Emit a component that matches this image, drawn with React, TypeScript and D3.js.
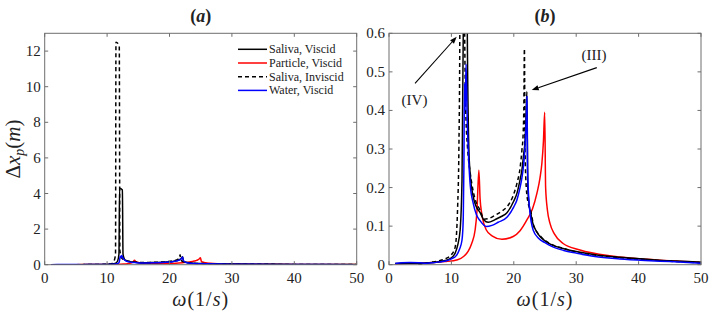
import React from "react";
import * as d3 from "d3";

type P = [number, number];

const salivaViscid: P[] = [
  [1, 0.003], [3, 0.004], [5, 0.004], [7, 0.006], [9, 0.011], [10, 0.018], [10.6, 0.03], [11, 0.05],
  [11.4, 0.09], [11.7, 0.22], [11.9, 0.6], [12.0, 4.3], [12.45, 4.2], [12.55, 0.6], [12.8, 0.3],
  [13, 0.237], [13.5, 0.176], [14, 0.15], [14.6, 0.135], [15.2, 0.116], [15.9, 0.11], [17, 0.117],
  [18, 0.125], [18.9, 0.135], [20, 0.165], [20.5, 0.185], [21, 0.22], [21.3, 0.245], [21.6, 0.29],
  [21.8, 0.32], [21.95, 0.38], [22.1, 0.449], [22.25, 0.2], [22.5, 0.15], [22.7, 0.134], [23, 0.11],
  [23.5, 0.09], [24.2, 0.073], [25, 0.062], [26, 0.052], [27.9, 0.042], [30, 0.034], [33.3, 0.025],
  [37, 0.019], [41.3, 0.014], [45, 0.01], [49.3, 0.007], [50, 0.0065],
];

const particleViscid: P[] = [
  [1, 0.002], [3, 0.003], [5, 0.004], [7, 0.006], [9, 0.008], [11, 0.013], [12, 0.022], [12.7, 0.035],
  [13.25, 0.055], [13.8, 0.09], [14.1, 0.14], [14.4, 0.245], [14.6, 0.17], [14.85, 0.134], [15.6, 0.09],
  [16.5, 0.075], [18.1, 0.066], [19.9, 0.073], [21, 0.088], [22.1, 0.116], [23, 0.145], [23.7, 0.185],
  [24.2, 0.225], [24.5, 0.263], [24.75, 0.32], [24.95, 0.395], [25.1, 0.2], [25.4, 0.14], [25.8, 0.107],
  [26.5, 0.08], [27.9, 0.055], [30.6, 0.038], [36, 0.022], [41.3, 0.014], [45, 0.01], [50, 0.006],
];

const salivaInviscid: P[] = [
  [4.7, 0], [6, 0.004], [7, 0.007], [8, 0.01], [9.25, 0.017], [10, 0.026], [10.6, 0.045], [11, 0.15],
  [11.2, 0.3], [11.35, 0.6], [11.42, 12.5], [11.95, 12.3], [12.05, 0.8], [12.3, 0.4], [12.6, 0.3],
  [13, 0.24], [13.5, 0.19], [14, 0.16], [14.6, 0.142], [15.2, 0.118], [16, 0.12], [17, 0.128],
  [18, 0.138], [18.9, 0.15], [19.8, 0.175], [20.5, 0.211], [21, 0.25], [21.3, 0.297], [21.5, 0.34],
  [21.6, 0.4], [21.7, 0.56], [21.8, 0.3], [22, 0.2], [22.3, 0.16], [22.7, 0.14], [23.2, 0.1],
  [23.7, 0.085], [24.5, 0.07], [26, 0.053], [28, 0.042], [30, 0.033], [33, 0.025], [37, 0.018],
  [41, 0.013], [45, 0.009], [50, 0.005],
];

const waterViscid: P[] = [
  [1, 0.003], [2, 0.005], [3.4, 0.006], [5, 0.005], [6, 0.004], [7, 0.005], [8, 0.007], [9.25, 0.01],
  [10, 0.015], [10.85, 0.025], [11.3, 0.04], [11.7, 0.064], [11.9, 0.12], [12.0, 0.25], [12.1, 0.47],
  [12.2, 0.4], [12.35, 0.52], [12.5, 0.4], [12.7, 0.3], [13, 0.21], [13.5, 0.159], [14, 0.13],
  [14.6, 0.114], [15.6, 0.099], [16.5, 0.102], [17.5, 0.11], [18.9, 0.123], [20, 0.15], [20.5, 0.168],
  [21, 0.2], [21.3, 0.225], [21.6, 0.263], [21.85, 0.32], [22.0, 0.38], [22.1, 0.436], [22.2, 0.25],
  [22.5, 0.15], [23.1, 0.09], [24, 0.068], [25, 0.057], [26, 0.048], [28, 0.037], [30, 0.03],
  [33, 0.021], [37, 0.015], [41, 0.011], [45, 0.008], [50, 0.004],
];

const seriesNames = ["Saliva, Viscid", "Particle, Viscid", "Saliva, Inviscid", "Water, Viscid"];
const seriesData = [salivaViscid, particleViscid, salivaInviscid, waterViscid];
const seriesColors = ["#000000", "#ff0000", "#000000", "#0000ff"];
const seriesDash = [null, null, "4,3", null];
const drawOrder = [1, 0, 2, 3];

const xTicks = [0, 10, 20, 30, 40, 50];
const yTicksA = [0, 2, 4, 6, 8, 10, 12];
const yTicksB = [0, 0.1, 0.2, 0.3, 0.4, 0.5, 0.6];

const panelTitles = ["a", "b"];
const annotations = [
  { label: "(IV)", tx: 4.09, ty: 0.427, from: [4.17, 0.47] as P, to: [10.85, 0.591] as P },
  { label: "(III)", tx: 32.85, ty: 0.544, from: [33.3, 0.511] as P, to: [22.87, 0.453] as P },
];

const W = 709;
const H = 311;
const TOP = 33.3;
const BOTTOM = 264.7;
const FONT = "Liberation Serif, DejaVu Serif, serif";

function Panel({ left, right, yMax, yTicks, title, fmt, showYLabel, showLegend, id, annots }: any) {
  const x = d3.scaleLinear().domain([0, 50]).range([left, right]);
  const y = d3.scaleLinear().domain([0, yMax]).range([BOTTOM, TOP]);
  const line = d3
    .line<P>()
    .x((d) => x(d[0]))
    .y((d) => y(d[1]))
    .curve(d3.curveMonotoneX);
  const tl = 3.5;
  const axisColor = "#6e6e6e";
  const cx = (left + right) / 2;
  return (
    <g>
      <defs>
        <clipPath id={id}>
          <rect x={left} y={TOP} width={right - left} height={BOTTOM - TOP} />
        </clipPath>
      </defs>
      <g clipPath={`url(#${id})`}>
        {drawOrder.map((i) => (
          <path
            key={i}
            d={line(seriesData[i]) || ""}
            fill="none"
            stroke={seriesColors[i]}
            strokeWidth={1.5}
            strokeDasharray={seriesDash[i] || undefined}
            strokeLinejoin="round"
          />
        ))}
      </g>
      <rect x={left} y={TOP} width={right - left} height={BOTTOM - TOP} fill="none" stroke={axisColor} strokeWidth={1} />
      {xTicks.map((t) => (
        <g key={"x" + t}>
          <line x1={x(t)} x2={x(t)} y1={BOTTOM} y2={BOTTOM - tl} stroke={axisColor} />
          <line x1={x(t)} x2={x(t)} y1={TOP} y2={TOP + tl} stroke={axisColor} />
          <text x={x(t)} y={283} textAnchor="middle" fontFamily={FONT} fontSize={15} fill="#222">
            {t}
          </text>
        </g>
      ))}
      {yTicks.map((t: number) => (
        <g key={"y" + t}>
          <line x1={left} x2={left + tl} y1={y(t)} y2={y(t)} stroke={axisColor} />
          <line x1={right} x2={right - tl} y1={y(t)} y2={y(t)} stroke={axisColor} />
          <text x={left - 4} y={y(t) + 5} textAnchor="end" fontFamily={FONT} fontSize={15} fill="#222">
            {fmt(t)}
          </text>
        </g>
      ))}
      <text x={cx} y={22} textAnchor="middle" fontFamily={FONT} fontSize={18} fontWeight="bold" fill="#222">
        (<tspan fontStyle="italic">{title}</tspan>)
      </text>
      <text x={cx} y={306} textAnchor="middle" fontFamily={FONT} fontSize={20} fill="#222" letterSpacing={1}>
        <tspan fontStyle="italic">ω</tspan>(1/<tspan fontStyle="italic">s</tspan>)
      </text>
      {showYLabel && (
        <text
          transform={`translate(20,${(TOP + BOTTOM) / 2}) rotate(-90)`}
          textAnchor="middle"
          fontFamily={FONT}
          fontSize={21}
          fill="#222"
        >
          Δ<tspan fontStyle="italic">x</tspan>
          <tspan fontStyle="italic" fontSize={14} dy={4}>p</tspan>
          <tspan dy={-4}>(</tspan>
          <tspan fontStyle="italic">m</tspan>)
        </text>
      )}
      {showLegend &&
        seriesNames.map((n, i) => (
          <g key={n}>
            <line
              x1={238}
              x2={267}
              y1={49.3 + i * 13.7}
              y2={49.3 + i * 13.7}
              stroke={seriesColors[i]}
              strokeWidth={1.5}
              strokeDasharray={seriesDash[i] || undefined}
            />
            <text x={269} y={49.3 + i * 13.7 + 4} fontFamily={FONT} fontSize={12} fill="#222">
              {n}
            </text>
          </g>
        ))}
      {annots &&
        annots.map((a: any) => {
          const x1 = x(a.from[0]);
          const y1 = y(a.from[1]);
          const x2 = x(a.to[0]);
          const y2 = y(a.to[1]);
          const ang = Math.atan2(y2 - y1, x2 - x1);
          const hl = 7;
          const hw = 2.6;
          const bx = x2 - hl * Math.cos(ang);
          const by = y2 - hl * Math.sin(ang);
          const p1 = [bx + hw * Math.sin(ang), by - hw * Math.cos(ang)];
          const p2 = [bx - hw * Math.sin(ang), by + hw * Math.cos(ang)];
          return (
            <g key={a.label}>
              <line x1={x1} y1={y1} x2={bx} y2={by} stroke="#000" strokeWidth={1.1} />
              <path d={`M${x2},${y2}L${p1[0]},${p1[1]}L${p2[0]},${p2[1]}Z`} fill="#000" />
              <text x={x(a.tx)} y={y(a.ty) + 5} textAnchor="middle" fontFamily={FONT} fontSize={15} fill="#222">
                {a.label}
              </text>
            </g>
          );
        })}
    </g>
  );
}

export default function App() {
  return (
    <svg width={W} height={H} style={{ position: "absolute", left: 0, top: 0, background: "#fff" }}>
      <rect width={W} height={H} fill="#fff" />
      <Panel
        id="clipA"
        left={44.7}
        right={356.7}
        yMax={13}
        yTicks={yTicksA}
        title={panelTitles[0]}
        fmt={(t: number) => String(t)}
        showYLabel
        showLegend
      />
      <Panel
        id="clipB"
        left={389}
        right={701}
        yMax={0.6}
        yTicks={yTicksB}
        title={panelTitles[1]}
        fmt={(t: number) => (t === 0 ? "0" : t.toFixed(1))}
        annots={annotations}
      />
    </svg>
  );
}
